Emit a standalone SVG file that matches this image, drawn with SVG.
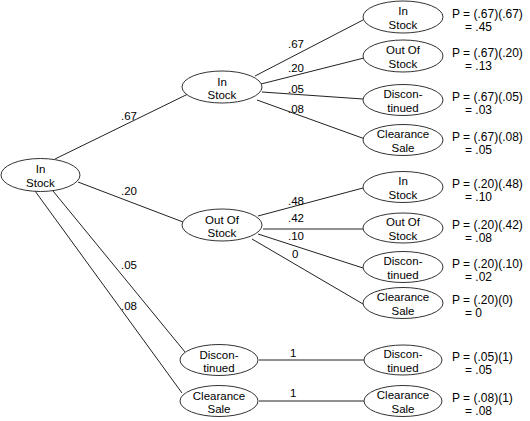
<svg xmlns="http://www.w3.org/2000/svg" width="530" height="421" viewBox="0 0 530 421">
<style>
.n ellipse{fill:#fff;stroke:#333;stroke-width:1}
text{font-family:"Liberation Sans",Arial,sans-serif;fill:#000}
.n text{font-size:11.5px;text-anchor:middle}
.lbl{font-size:11.5px}
.p{font-size:12px}
#connectors line{stroke:#222;stroke-width:1}
</style>
<rect width="530" height="421" fill="#fff"/>
<g id="connectors">
<line x1="55" y1="159" x2="190" y2="93"/>
<line x1="78" y1="182" x2="183" y2="222"/>
<line x1="53" y1="191" x2="185" y2="352"/>
<line x1="35" y1="191" x2="182" y2="393"/>
<line x1="255" y1="76" x2="363" y2="20"/>
<line x1="261" y1="84" x2="364" y2="58"/>
<line x1="262" y1="92" x2="363" y2="99"/>
<line x1="257" y1="100" x2="365" y2="139"/>
<line x1="258" y1="216" x2="363" y2="188"/>
<line x1="263" y1="229" x2="363" y2="229"/>
<line x1="258" y1="234" x2="363" y2="268"/>
<line x1="252" y1="239" x2="363" y2="304"/>
<line x1="259" y1="360" x2="364" y2="360"/>
<line x1="259" y1="401" x2="364" y2="401"/>
<text class="lbl" x="121" y="120">.67</text>
<text class="lbl" x="121" y="195">.20</text>
<text class="lbl" x="121" y="269">.05</text>
<text class="lbl" x="121" y="310">.08</text>
<text class="lbl" x="288" y="48">.67</text>
<text class="lbl" x="288" y="72">.20</text>
<text class="lbl" x="288" y="93">.05</text>
<text class="lbl" x="288" y="113">.08</text>
<text class="lbl" x="288" y="205">.48</text>
<text class="lbl" x="288" y="222">.42</text>
<text class="lbl" x="288" y="240">.10</text>
<text class="lbl" x="292" y="258">0</text>
<text class="lbl" x="290" y="357">1</text>
<text class="lbl" x="290" y="397">1</text>
</g>
<g id="root" class="n"><ellipse cx="40.5" cy="175" rx="39.5" ry="16.5"/><text x="40.5" y="173">In</text><text x="40.5" y="187">Stock</text></g>
<g id="l1-in" class="n"><ellipse cx="222" cy="87" rx="40" ry="16"/><text x="222" y="86">In</text><text x="222" y="99">Stock</text></g>
<g id="l1-out" class="n"><ellipse cx="222" cy="225" rx="40" ry="16"/><text x="222" y="224">Out Of</text><text x="222" y="237">Stock</text></g>
<g id="l1-disc" class="n"><ellipse cx="219" cy="360" rx="39" ry="15.5"/><text x="219" y="359">Discon-</text><text x="219" y="372">tinued</text></g>
<g id="l1-clear" class="n"><ellipse cx="219" cy="401" rx="39" ry="15.5"/><text x="219" y="400">Clearance</text><text x="219" y="413">Sale</text></g>
<g id="a-in" class="n"><ellipse cx="403" cy="17" rx="40" ry="16"/><text x="403" y="15">In</text><text x="403" y="29">Stock</text></g>
<g id="a-out" class="n"><ellipse cx="403" cy="56" rx="40" ry="16"/><text x="403" y="54">Out Of</text><text x="403" y="68">Stock</text></g>
<g id="a-disc" class="n"><ellipse cx="403" cy="100" rx="40" ry="15.5"/><text x="403" y="98">Discon-</text><text x="403" y="112">tinued</text></g>
<g id="a-clear" class="n"><ellipse cx="403" cy="140" rx="40" ry="15.5"/><text x="403" y="138">Clearance</text><text x="403" y="152">Sale</text></g>
<g id="b-in" class="n"><ellipse cx="403" cy="187" rx="40" ry="15.5"/><text x="403" y="185">In</text><text x="403" y="199">Stock</text></g>
<g id="b-out" class="n"><ellipse cx="403" cy="228" rx="40" ry="15"/><text x="403" y="226">Out Of</text><text x="403" y="240">Stock</text></g>
<g id="b-disc" class="n"><ellipse cx="403" cy="267" rx="40" ry="15.5"/><text x="403" y="265">Discon-</text><text x="403" y="279">tinued</text></g>
<g id="b-clear" class="n"><ellipse cx="403" cy="303" rx="40" ry="15.5"/><text x="403" y="301">Clearance</text><text x="403" y="315">Sale</text></g>
<g id="c-disc" class="n"><ellipse cx="403" cy="360" rx="39" ry="15"/><text x="403" y="358">Discon-</text><text x="403" y="372">tinued</text></g>
<g id="c-clear" class="n"><ellipse cx="403" cy="401" rx="39" ry="15.5"/><text x="403" y="399">Clearance</text><text x="403" y="413">Sale</text></g>
<g id="probs" class="p">
<text x="452" y="18">P = (.67)(.67)</text><text x="465" y="31">= .45</text>
<text x="452" y="57">P = (.67)(.20)</text><text x="465" y="70">= .13</text>
<text x="452" y="101">P = (.67)(.05)</text><text x="465" y="114">= .03</text>
<text x="452" y="141">P = (.67)(.08)</text><text x="465" y="154">= .05</text>
<text x="452" y="188">P = (.20)(.48)</text><text x="465" y="201">= .10</text>
<text x="452" y="229">P = (.20)(.42)</text><text x="465" y="242">= .08</text>
<text x="452" y="268">P = (.20)(.10)</text><text x="465" y="281">= .02</text>
<text x="452" y="304">P = (.20)(0)</text><text x="465" y="317">= 0</text>
<text x="452" y="361">P = (.05)(1)</text><text x="465" y="374">= .05</text>
<text x="452" y="402">P = (.08)(1)</text><text x="465" y="415">= .08</text>
</g>
</svg>
